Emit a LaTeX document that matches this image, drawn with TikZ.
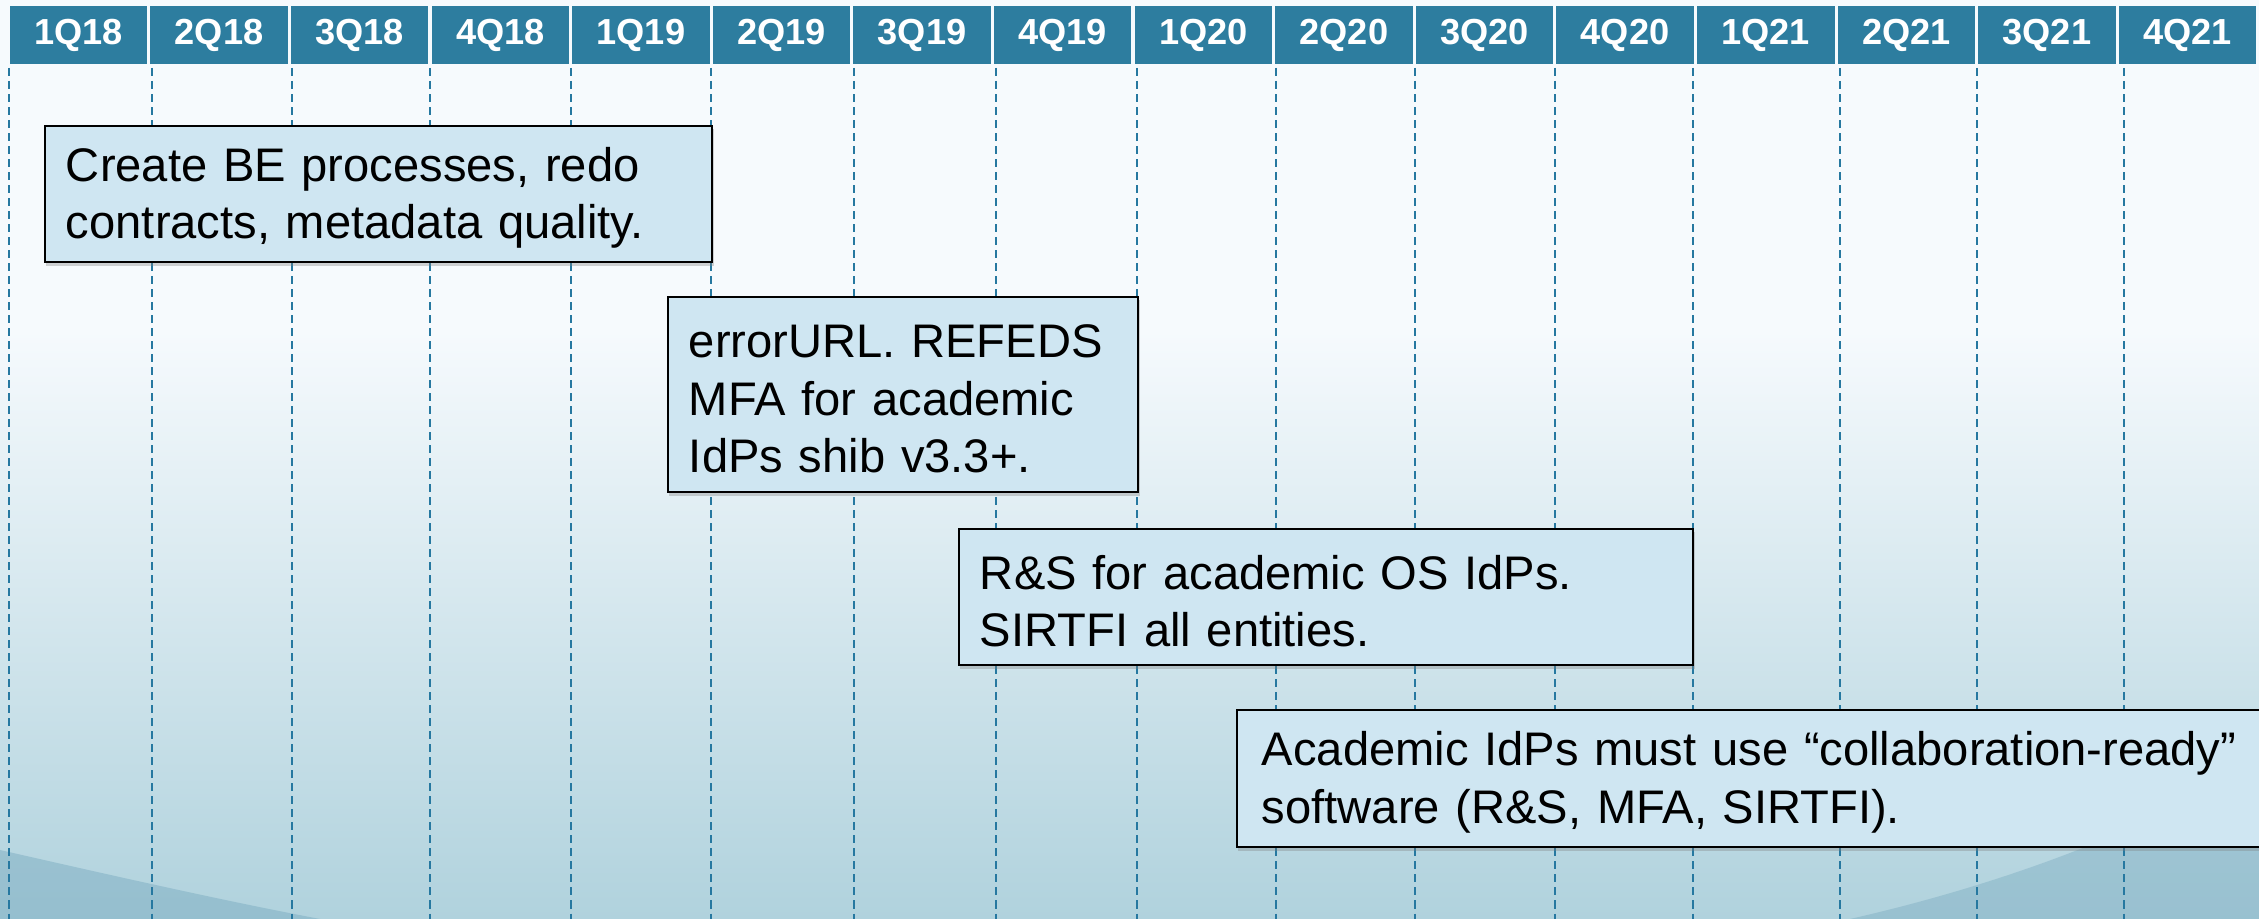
\documentclass[tikz,border=0pt]{standalone}
\usepackage{fontspec}
\setmainfont{Liberation Sans}
\usepackage{xcolor}
\usepackage{tikz}
\usetikzlibrary{shadows}
\definecolor{hdrblue}{RGB}{45,125,159}
\definecolor{gridblue}{RGB}{38,120,160}
\definecolor{noteblue}{RGB}{207,230,242}
\definecolor{bgtop}{RGB}{246,250,253}
\definecolor{bgmid}{RGB}{228,240,245}
\definecolor{bgbottom}{RGB}{176,210,221}
\definecolor{bgdeep}{RGB}{118,168,190}
\tikzstyle{quarter} = [fill=hdrblue,text=white,minimum width=1.375cm,minimum height=0.58cm,inner sep=0pt,font=\bfseries\fontsize{10.3}{12}\selectfont]
\tikzstyle{gridline} = [gridblue,line width=0.45pt,dash pattern=on 0.08cm off 0.05cm]
\tikzstyle{note} = [draw=black,line width=0.55pt,fill=noteblue,anchor=north west,align=left,inner xsep=0.21cm,inner ysep=0.1cm,font=\fontsize{13.4}{16.3}\selectfont,execute at begin node={\rule{0pt}{0.42cm}},drop shadow={shadow xshift=0.4pt,shadow yshift=-1pt,opacity=0.35}]

\begin{document}
\begin{tikzpicture}[x=0.01cm, y=-0.01cm]
            \useasboundingbox (0,0) rectangle (2259,919);
            \clip (0,0) rectangle (2259,919);
            % slide background
            \fill[bgtop] (0,0) rectangle (2259,919);
            \shade[top color=bgtop, middle color=bgmid, bottom color=bgbottom] (0,330) rectangle (2259,919);
            \fill[bgdeep, opacity=0.45] (0,850) .. controls (110,875) and (220,900) .. (320,919) -- (0,919) -- cycle;
            \fill[bgdeep, opacity=0.4] (2259,760) .. controls (2150,830) and (2000,885) .. (1850,919) -- (2259,919) -- cycle;
            % quarter dividers
            \foreach \x in {9,152,292,430,571,711,854,996,1137,1276,1415,1555,1693,1840,1977,2124}
                \draw[gridline] (\x,68) -- (\x,919);
            % quarter header
            \foreach \lbl [count=\i] in {1Q18,2Q18,3Q18,4Q18,1Q19,2Q19,3Q19,4Q19,1Q20,2Q20,3Q20,4Q20,1Q21,2Q21,3Q21,4Q21}
                \node[quarter] (q\i) at ({78.5+140.6*(\i-1)},35) {\lbl};
            % milestones
            \node[note, minimum width=6.67cm, minimum height=1.36cm, text width=6.25cm] (beproc) at (44,125)
                {Create BE processes, redo\\contracts, metadata quality.};
            \node[note, minimum width=4.70cm, minimum height=1.95cm, text width=4.28cm] (errurl) at (667,296)
                {errorURL. REFEDS\\MFA for academic\\IdPs shib v3.3+.};
            \node[note, minimum width=7.34cm, minimum height=1.36cm, text width=6.92cm] (rands) at (958,528)
                {R\&S for academic OS IdPs.\\SIRTFI all entities.};
            \node[note, minimum width=11cm, minimum height=1.37cm, text width=10.5cm] (collab) at (1236,709)
                {Academic IdPs must use “collaboration-ready”\\software (R\&S, MFA, SIRTFI).};
        \end{tikzpicture}
\end{document}
